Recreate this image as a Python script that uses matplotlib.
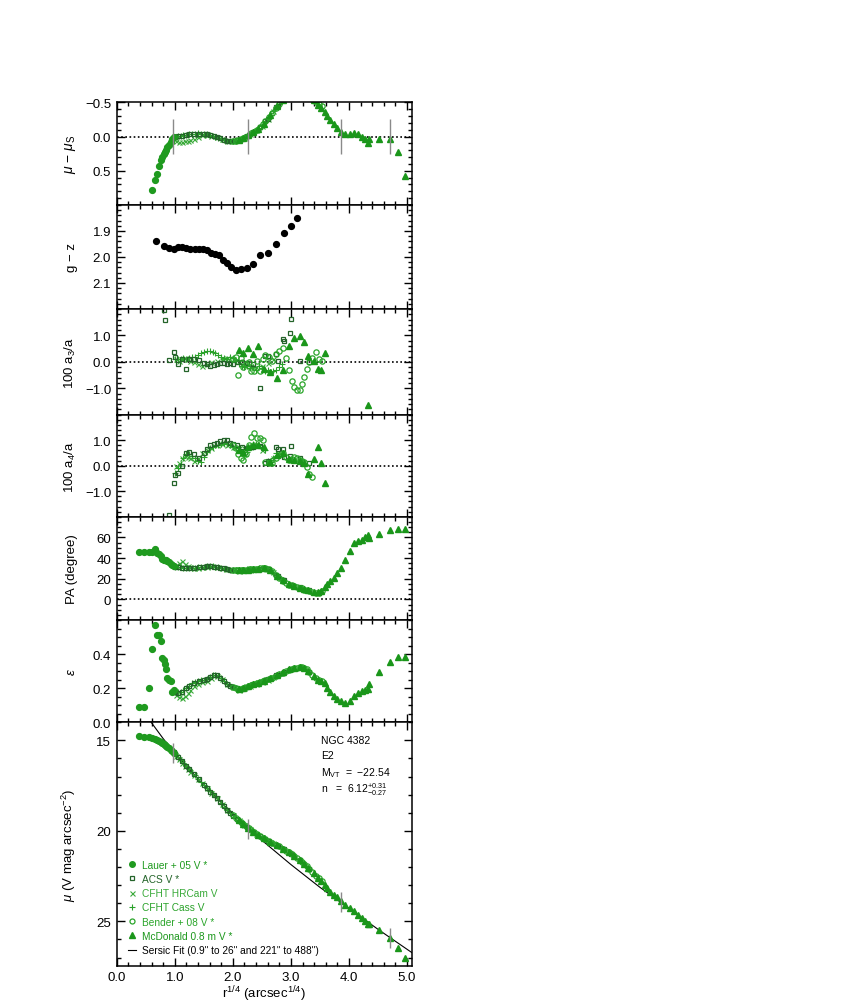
import numpy as np
import matplotlib
matplotlib.use('Agg')
import matplotlib.pyplot as plt
from matplotlib.ticker import MultipleLocator, FuncFormatter, FixedLocator
from matplotlib.lines import Line2D

nan = np.nan

# ---------------- data ----------------
# Lauer+05 (filled circles)
lauer_x = [0.39, 0.47, 0.55, 0.61, 0.66, 0.69, 0.73, 0.76, 0.785, 0.81, 0.83, 0.85, 0.87, 0.90, 0.93, 0.96, 0.99]
lauer_dmu = [1.75, 1.5, 1.15, 0.78, 0.63, 0.54, 0.43, 0.35, 0.30, 0.26, 0.22, 0.19, 0.16, 0.12, 0.08, 0.04, 0.01]
lauer_mu = [14.75, 14.79, 14.83, 14.86, 14.93, 14.97, 15.02, 15.07, 15.13, 15.20, 15.25, 15.30, 15.35, 15.43, 15.51, 15.59, 15.67]
lauer_pa = [45.5, 45.5, 45.5, 45.5, 48.5, 44.5, 43.5, 42, 39.5, 38.5, 38, 37.7, 37, 36, 34.5, 33, 32]
lauer_eps = [0.088, 0.088, 0.204, 0.427, 0.572, 0.512, 0.512, 0.478, 0.378, 0.366, 0.343, 0.31, 0.262, 0.25, 0.245, 0.18, 0.19]

# ACS (open squares)
acs_x = [0.81, 0.83, 0.90, 0.98, 1.01, 1.06, 1.12, 1.20, 1.24, 1.33, 1.41, 1.50, 1.55, 1.61, 1.67, 1.72, 1.78, 1.84,
         1.90, 1.95, 2.01, 2.07, 2.15, 2.25, 2.35, 2.47, 2.56, 2.60, 2.75, 2.77, 2.87, 2.88, 2.99, 3.01, 3.15, 3.32]
acs_dmu = [0.26, 0.22, 0.12, 0.01, 0.00, -0.01, -0.015, -0.025, -0.03, -0.035, -0.04, -0.035, -0.03, -0.02, -0.005,
           0.005, 0.025, 0.045, 0.065, 0.07, 0.07, 0.05, 0.03, -0.01, -0.06, -0.14, -0.22, -0.26, -0.43, -0.45,
           -0.54, -0.55, -0.62, -0.63, -0.64, -0.57]
acs_mu = [15.20, 15.25, 15.43, 15.63, 15.74, 15.92, 16.14, 16.42, 16.56, 16.87, 17.14, 17.45, 17.62, 17.83, 18.04,
          18.21, 18.42, 18.63, 18.83, 18.99, 19.17, 19.33, 19.55, 19.80, 20.04, 20.30, 20.47, 20.54, 20.78, 20.81,
          20.99, 21.01, 21.23, 21.28, 21.63, 22.13]
acs_pa = [nan, nan, nan, 32.5, 31.5, 31, 30.5, 30, 30, 30.5, 31, 31.5, 32, 32, 31.5, 31, 30.5, 30, 29, 28.5, 28, 28,
          28.2, 28.5, 29, 29.5, 30, 29.5, 23.5, 23, 19, 18.5, 14, 13.5, 11.5, 9]
acs_eps = [nan, nan, nan, 0.18, 0.18, 0.17, 0.18, 0.20, 0.21, 0.23, 0.245, 0.25, 0.255, 0.265, 0.275, 0.28, 0.262,
           0.245, 0.225, 0.215, 0.205, 0.20, 0.197, 0.208, 0.222, 0.237, 0.25, 0.255, 0.275, 0.28, 0.292, 0.295,
           0.31, 0.312, 0.322, 0.295]
acs_a3 = [1.96, 1.60, 0.06, 0.38, 0.19, -0.07, 0.12, -0.28, 0.12, 0.12, 0.06, -0.06, -0.10, -0.14, -0.12, -0.08,
          -0.05, -0.05, -0.08, -0.06, -0.09, -0.02, 0.00, -0.05, -0.10, -0.98, 0.22, 0.22, 0.29, 0.04, 0.87, 0.80,
          1.09, 1.64, 0.05, 0.00]
acs_a4 = [nan, nan, -1.95, -0.69, -0.37, -0.27, 0.0, 0.48, 0.55, 0.44, 0.32, 0.49, 0.65, 0.83, 0.86, 0.90, 0.95,
          0.99, 0.99, 0.90, 0.86, 0.80, 0.75, 0.70, 0.75, 0.77, 0.12, 0.20, 0.74, 0.64, 0.64, 0.35, 0.39, 0.78,
          0.30, 0.10]

# CFHT HRCam (x)
hrc_x = [1.02, 1.07, 1.12, 1.17, 1.22, 1.27, 1.33, 1.40, 1.47, 1.55, 1.63, 1.72, 1.81, 1.90, 2.00, 2.10, 2.20,
         2.30, 2.40, 2.50, 2.60, 2.70]
hrc_dmu = [0.06, 0.08, 0.08, 0.07, 0.06, 0.05, 0.03, 0.00, -0.02, -0.02, -0.01, 0.01, 0.04, 0.07, 0.07, 0.05,
           0.02, -0.03, -0.09, -0.16, -0.26, -0.38]
hrc_mu = [15.84, 16.05, 16.23, 16.41, 16.58, 16.74, 16.93, 17.15, 17.36, 17.63, 17.90, 18.21, 18.53, 18.83, 19.14,
          19.42, 19.68, 19.92, 20.15, 20.36, 20.54, 20.69]
hrc_pa = [33, 35, 37, 34, 32, 31, 30.5, 30.5, 31, 31.5, 32, 31.5, 30, 29, 28, 27.5, 28, 28.5, 29, 29.5, 29, 26]
hrc_eps = [0.16, 0.15, 0.145, 0.155, 0.17, 0.19, 0.21, 0.225, 0.235, 0.245, 0.26, 0.27, 0.255, 0.225, 0.205, 0.19,
           0.20, 0.215, 0.225, 0.235, 0.25, 0.265]
hrc_a3 = [0.10, 0.05, 0.10, 0.15, 0.10, 0.05, 0.00, -0.10, -0.15, -0.10, 0.00, 0.05, 0.10, 0.15, 0.10, 0.05, 0.00,
          -0.15, -0.20, -0.15, -0.05, 0.10]
hrc_a4 = [0.00, 0.10, 0.30, 0.40, 0.35, 0.30, 0.20, 0.30, 0.50, 0.60, 0.70, 0.80, 0.85, 0.80, 0.75, 0.70, 0.70,
          0.75, 0.85, 0.60, 0.20, 0.30]

# CFHT Cass (+)
cass_x = [1.00, 1.05, 1.10, 1.15, 1.20, 1.25, 1.30, 1.35, 1.40, 1.45, 1.50, 1.55, 1.60, 1.65, 1.70, 1.75, 1.80,
          1.85, 1.90, 1.95, 2.00, 2.05, 2.10, 2.15, 2.20, 2.25, 2.30, 2.35, 2.40, 2.45, 2.50, 2.55, 2.60, 2.65,
          2.70, 2.75, 2.80, 2.85]
cass_dmu = [0.0, -0.005, -0.015, -0.02, -0.025, -0.03, -0.035, -0.04, -0.045, -0.04, -0.035, -0.03, -0.02, -0.01,
            0.0, 0.015, 0.03, 0.05, 0.065, 0.07, 0.07, 0.055, 0.045, 0.03, 0.01, -0.01, -0.04, -0.06, -0.09, -0.12,
            -0.16, -0.21, -0.26, -0.32, -0.38, -0.43, -0.48, -0.52]
cass_mu = [15.70, 15.89, 16.07, 16.24, 16.42, 16.59, 16.77, 16.93, 17.11, 17.28, 17.45, 17.62, 17.79, 17.97, 18.14,
           18.32, 18.48, 18.66, 18.83, 18.99, 19.14, 19.28, 19.42, 19.55, 19.67, 19.80, 19.91, 20.04, 20.15, 20.26,
           20.36, 20.45, 20.54, 20.62, 20.69, 20.78, 20.86, 20.96]
cass_pa = [31.5, 31, 31, 30.5, 30.5, 30, 30, 30.5, 31, 31.5, 31.5, 32, 32, 32, 31.5, 31, 30, 29.5, 29, 28.5, 28, 28,
           28, 28.5, 28.5, 29, 29, 29.5, 29.5, 30, 30, 30, 29.5, 28, 25.5, 23.5, 21.5, 19]
cass_eps = [0.18, 0.175, 0.178, 0.19, 0.20, 0.215, 0.228, 0.235, 0.243, 0.248, 0.25, 0.255, 0.265, 0.275, 0.28,
            0.272, 0.258, 0.24, 0.225, 0.212, 0.205, 0.20, 0.196, 0.198, 0.205, 0.21, 0.218, 0.223, 0.23, 0.235,
            0.24, 0.245, 0.252, 0.258, 0.266, 0.275, 0.285, 0.292]
cass_a3 = [0.10, 0.12, 0.10, 0.15, 0.12, 0.15, 0.18, 0.20, 0.25, 0.35, 0.38, 0.40, 0.42, 0.38, 0.32, 0.25, 0.20,
           0.15, 0.12, 0.18, 0.15, 0.05, -0.10, -0.15, -0.20, -0.15, -0.25, -0.20, -0.30, -0.15, -0.25, -0.35,
           -0.30, -0.40, -0.35, -0.30, -0.20, -0.10]
cass_a4 = [-0.30, -0.10, 0.05, 0.30, 0.45, 0.45, 0.40, 0.30, 0.20, 0.15, 0.35, 0.55, 0.70, 0.75, 0.80, 0.82, 0.85,
           0.88, 0.85, 0.80, 0.75, 0.70, 0.60, 0.50, 0.40, 0.55, 0.75, 0.85, 0.85, 0.80, 0.75, 0.60, 0.20, 0.15,
           0.30, 0.50, 0.45, 0.40]

# Bender+08 (open circles)
bend_x = [2.00, 2.05, 2.09, 2.14, 2.18, 2.22, 2.27, 2.31, 2.36, 2.41, 2.47, 2.52, 2.56, 2.62, 2.68, 2.74, 2.80,
          2.86, 2.92, 2.97, 3.02, 3.06, 3.10, 3.15, 3.19, 3.23, 3.27, 3.31, 3.36, 3.43, 3.48, 3.53]
bend_dmu = [0.07, 0.06, 0.05, 0.035, 0.02, 0.0, -0.025, -0.045, -0.07, -0.10, -0.14, -0.18, -0.22, -0.28, -0.35,
            -0.42, -0.48, -0.53, -0.58, -0.61, -0.63, -0.65, -0.66, -0.66, -0.65, -0.63, -0.61, -0.58, -0.55,
            -0.50, -0.48, -0.44]
bend_mu = [19.14, 19.28, 19.39, 19.53, 19.63, 19.72, 19.85, 19.94, 20.06, 20.17, 20.30, 20.40, 20.47, 20.57, 20.67,
           20.76, 20.86, 20.98, 21.09, 21.19, 21.30, 21.38, 21.48, 21.61, 21.72, 21.84, 21.96, 22.10, 22.25, 22.48,
           22.62, 22.79]
bend_pa = [28, 28, 28, 28, 28.5, 28.5, 29, 29, 29.5, 29.5, 30, 30, 30, 29.5, 27, 24, 21, 18, 16, 14, 13.5, 12.5,
           11.5, 11, 10.5, 9.5, 9, 8, 7.5, 6.5, 6.5, 8]
bend_eps = [0.205, 0.20, 0.197, 0.196, 0.20, 0.205, 0.212, 0.22, 0.225, 0.23, 0.235, 0.24, 0.248, 0.252, 0.262,
            0.272, 0.284, 0.292, 0.30, 0.306, 0.313, 0.317, 0.32, 0.322, 0.322, 0.318, 0.31, 0.295, 0.28, 0.262,
            0.25, 0.245]
bend_a3 = [0.10, 0.20, -0.49, 0.15, -0.20, -0.10, 0.00, -0.35, -0.33, 0.05, -0.36, 0.10, 0.25, 0.20, 0.05, 0.30,
           0.41, 0.51, 0.13, -0.30, -0.73, -0.96, -1.05, -1.06, -0.83, -0.58, -0.28, 0.00, 0.15, 0.38, 0.10, 0.05]
bend_a4 = [0.80, 0.70, 0.45, 0.30, 0.22, 0.45, 0.80, 1.11, 1.27, 1.10, 1.07, 1.00, 0.15, 0.12, 0.10, 0.31, 0.42,
           0.50, 0.35, 0.22, 0.25, 0.35, 0.31, 0.22, 0.20, 0.16, -0.04, -0.33, -0.43, nan, nan, nan]

# McDonald 0.8 m (filled triangles)
mcd_x = [2.10, 2.18, 2.26, 2.35, 2.44, 2.53, 2.64, 2.76, 2.86, 2.97, 3.06, 3.15, 3.22, 3.29, 3.39, 3.46, 3.52, 3.58,
         3.63, 3.68, 3.74, 3.80, 3.86, 3.93, 4.01, 4.09, 4.16, 4.23, 4.28, 4.32, 4.35, 4.52, 4.71, 4.85, 4.97]
mcd_dmu = [0.045, 0.02, -0.02, -0.06, -0.11, -0.19, -0.31, -0.44, -0.53, -0.61, -0.65, -0.66, -0.64, -0.60, -0.53,
           -0.457, -0.41, -0.36, -0.30, -0.24, -0.19, -0.13, -0.07, -0.03, -0.03, -0.05, -0.03, 0.00, 0.03, 0.088,
           0.03, 0.03, 0.03, 0.233, 0.58]
mcd_mu = [19.42, 19.63, 19.82, 20.04, 20.24, 20.42, 20.60, 20.80, 20.98, 21.19, 21.38, 21.61, 21.81, 22.03, 22.35,
          22.59, 22.79, 22.99, 23.18, 23.36, 23.56, 23.68, 23.89, 24.09, 24.28, 24.45, 24.64, 24.83, 24.98, 25.13,
          25.14, 25.49, 25.92, 26.45, 27.05]
mcd_pa = [28, 28.5, 28.5, 29, 29.5, 30, 28.5, 22.5, 18.5, 14.5, 12.5, 11, 10, 9, 7.5, 7, 8.5, 12.4, 15, 17.5, 21,
          25.6, 30.8, 38, 47.2, 55, 56, 57.7, 60, 62, 59, 63.6, 66.9, 68.2, 68.2]
mcd_eps = [0.196, 0.20, 0.21, 0.222, 0.232, 0.245, 0.26, 0.28, 0.295, 0.31, 0.318, 0.322, 0.32, 0.30, 0.27, 0.25,
           0.245, 0.23, 0.20, 0.18, 0.157, 0.137, 0.124, 0.112, 0.124, 0.157, 0.17, 0.186, 0.19, 0.196, 0.222,
           0.294, 0.353, 0.382, 0.382]
mcd_a3 = [0.45, 0.35, 0.54, 0.28, 0.61, -0.26, -0.38, -0.60, -0.30, 0.61, 0.92, 0.96, 0.77, 0.22, 0.04, -0.28,
          -0.31, 0.35, nan, nan, nan, nan, nan, nan, nan, nan, nan, nan, nan, -1.64, nan, nan, nan, nan, nan]
mcd_a4 = [0.60, 0.55, 0.75, 0.80, 0.81, 0.72, 0.16, 0.42, 0.50, 0.25, 0.22, 0.20, 0.10, -0.34, 0.25, 0.74, 0.09,
          -0.69, nan, nan, nan, nan, nan, nan, nan, nan, nan, nan, nan, nan, nan, nan, nan, nan, nan]

# g - z colour (black dots)
gz_x = [0.67, 0.81, 0.90, 0.995, 1.06, 1.13, 1.20, 1.27, 1.34, 1.41, 1.48, 1.56, 1.63, 1.70, 1.76, 1.83, 1.90,
        1.97, 2.05, 2.14, 2.24, 2.35, 2.47, 2.60, 2.75, 2.88, 3.00, 3.10]
gz = [1.937, 1.956, 1.964, 1.968, 1.960, 1.960, 1.964, 1.968, 1.968, 1.968, 1.971, 1.974, 1.986, 1.988, 1.994,
      2.010, 2.023, 2.038, 2.050, 2.048, 2.043, 2.025, 1.992, 1.985, 1.950, 1.909, 1.881, 1.850]

# Sersic fit line and fit-range markers
sersic_x = [0.58, 0.8, 1.0, 1.5, 2.0, 2.5, 3.0, 3.5, 4.0, 4.5, 5.08]
sersic_mu = [13.94, 14.90, 15.70, 17.48, 19.07, 20.52, 21.86, 23.12, 24.28, 25.44, 26.72]
fit_x = [0.974, 2.258, 3.856, 4.70]
fit_mu = [15.72, 19.90, 23.92, 25.92]

legend_labels = ['Lauer + 05 V *', 'ACS V *', 'CFHT HRCam V', 'CFHT Cass V', 'Bender + 08 V *',
                 'McDonald 0.8 m V *', 'Sersic Fit (0.9" to 26" and 221" to 488")']

# ---------------- style ----------------
plt.rcParams['font.family'] = ['Liberation Sans', 'DejaVu Sans']
plt.rcParams['mathtext.fontset'] = 'custom'
plt.rcParams['mathtext.rm'] = 'Liberation Sans'
plt.rcParams['mathtext.it'] = 'Liberation Sans:italic'
plt.rcParams['mathtext.bf'] = 'Liberation Sans:bold'
FS = 9.5

c_lauer = '#1f9a1f'
c_acs = '#24642a'
c_hrc = '#3aaa3a'
c_cass = '#2aa22a'
c_bend = '#2aa52a'
c_mcd = '#1a961a'
c_fit = '#8a8a8a'

W, H = 850, 1004
fig = plt.figure(figsize=(W / 100, H / 100), dpi=100)
left, right = 116.7, 411.7
edges = [103.3, 206.0, 310.0, 415.7, 517.7, 621.0, 723.3, 966.7]
axes = []
for i in range(7):
    t, b = edges[i], edges[i + 1]
    axes.append(fig.add_axes([left / W, 1 - b / H, (right - left) / W, (b - t) / H]))


def make_fmt(fmt):
    return FuncFormatter(lambda v, p: (fmt % v).replace('-', '\u2212'))


def style(ax, yticks, yminor, fmt, ylim, bottom=False):
    ax.set_xlim(0, 5.08)
    ax.set_ylim(*ylim)
    ax.xaxis.set_major_locator(MultipleLocator(1.0))
    ax.xaxis.set_minor_locator(MultipleLocator(0.2))
    ax.yaxis.set_major_locator(FixedLocator(yticks))
    ax.yaxis.set_minor_locator(MultipleLocator(yminor))
    ax.tick_params(which='both', direction='in', top=True, right=True, width=1.0,
                   labelsize=FS, labelbottom=bottom, pad=4)
    ax.tick_params(which='major', length=5.5)
    ax.tick_params(which='minor', length=2.8)
    for s in ax.spines.values():
        s.set_linewidth(1.1)
    ax.yaxis.set_major_formatter(make_fmt(fmt))
    ax.xaxis.set_major_formatter(make_fmt('%.1f'))
    ax.yaxis.set_label_coords(-0.13, 0.5)


def zero(ax):
    ax.axhline(0, color='k', ls=(0, (1.0, 1.5)), lw=1.2, zorder=1)


def pts(ax, x, y, kind):
    if kind == 'lauer':
        ax.plot(x, y, ls='none', marker='o', ms=4.2, color=c_lauer, mec=c_lauer, zorder=2)
    elif kind == 'acs':
        ax.plot(x, y, ls='none', marker='s', ms=3.2, mfc='none', mec=c_acs, mew=0.9, zorder=2)
    elif kind == 'hrc':
        ax.plot(x, y, ls='none', marker='x', ms=3.6, color=c_hrc, mew=0.8, zorder=2)
    elif kind == 'cass':
        ax.plot(x, y, ls='none', marker='+', ms=4.4, color=c_cass, mew=0.8, zorder=2)
    elif kind == 'bend':
        ax.plot(x, y, ls='none', marker='o', ms=3.8, mfc='none', mec=c_bend, mew=0.9, zorder=2)
    elif kind == 'mcd':
        ax.plot(x, y, ls='none', marker='^', ms=4.3, color=c_mcd, mec=c_mcd, zorder=2)


# Panel 1: mu - mu_s
ax = axes[0]
style(ax, [-0.5, 0.0, 0.5], 0.1, '%.1f', (1.0, -0.5))
zero(ax)
pts(ax, hrc_x, hrc_dmu, 'hrc')
pts(ax, cass_x, cass_dmu, 'cass')
pts(ax, acs_x, acs_dmu, 'acs')
pts(ax, bend_x, bend_dmu, 'bend')
pts(ax, mcd_x, mcd_dmu, 'mcd')
pts(ax, lauer_x, lauer_dmu, 'lauer')
ax.vlines(fit_x, -0.25, 0.25, color=c_fit, lw=1.0, zorder=3)
ax.set_ylabel(r'$\mu$ − $\mu_{\rm S}$', fontsize=FS + 0.5)

# Panel 2: g - z
ax = axes[1]
style(ax, [1.9, 2.0, 2.1], 0.02, '%.1f', (2.2, 1.8))
ax.plot(gz_x, gz, ls='none', marker='o', ms=4.2, color='k')
ax.set_ylabel('g − z', fontsize=FS)

# Panel 3: a3
ax = axes[2]
style(ax, [-1.0, 0.0, 1.0], 0.2, '%.1f', (-2.0, 2.0))
zero(ax)
pts(ax, hrc_x, hrc_a3, 'hrc')
pts(ax, cass_x, cass_a3, 'cass')
pts(ax, acs_x, acs_a3, 'acs')
pts(ax, bend_x, bend_a3, 'bend')
pts(ax, mcd_x, mcd_a3, 'mcd')
ax.set_ylabel(r'100 a$_3$/a', fontsize=FS)

# Panel 4: a4
ax = axes[3]
style(ax, [-1.0, 0.0, 1.0], 0.2, '%.1f', (-2.0, 2.0))
zero(ax)
pts(ax, hrc_x, hrc_a4, 'hrc')
pts(ax, cass_x, cass_a4, 'cass')
pts(ax, acs_x, acs_a4, 'acs')
pts(ax, bend_x, bend_a4, 'bend')
pts(ax, mcd_x, mcd_a4, 'mcd')
ax.set_ylabel(r'100 a$_4$/a', fontsize=FS)

# Panel 5: PA
ax = axes[4]
style(ax, [0, 20, 40, 60], 5, '%d', (-20, 80))
zero(ax)
pts(ax, hrc_x, hrc_pa, 'hrc')
pts(ax, cass_x, cass_pa, 'cass')
pts(ax, acs_x, acs_pa, 'acs')
pts(ax, bend_x, bend_pa, 'bend')
pts(ax, mcd_x, mcd_pa, 'mcd')
pts(ax, lauer_x, lauer_pa, 'lauer')
ax.set_ylabel('PA (degree)', fontsize=FS)

# Panel 6: ellipticity
ax = axes[5]
style(ax, [0.0, 0.2, 0.4], 0.05, '%.1f', (0.0, 0.6))
pts(ax, hrc_x, hrc_eps, 'hrc')
pts(ax, cass_x, cass_eps, 'cass')
pts(ax, acs_x, acs_eps, 'acs')
pts(ax, bend_x, bend_eps, 'bend')
pts(ax, mcd_x, mcd_eps, 'mcd')
pts(ax, lauer_x, lauer_eps, 'lauer')
ax.set_ylabel(r'$\epsilon$', fontsize=FS)

# Panel 7: surface brightness
ax = axes[6]
style(ax, [15, 20, 25], 1, '%d', (27.45, 14.0), bottom=True)
ax.plot(sersic_x, sersic_mu, color='k', lw=0.8, zorder=1)
pts(ax, hrc_x, hrc_mu, 'hrc')
pts(ax, cass_x, cass_mu, 'cass')
pts(ax, acs_x, acs_mu, 'acs')
pts(ax, bend_x, bend_mu, 'bend')
pts(ax, mcd_x, mcd_mu, 'mcd')
pts(ax, lauer_x, lauer_mu, 'lauer')
ax.vlines(fit_x, np.array(fit_mu) - 0.55, np.array(fit_mu) + 0.55, color=c_fit, lw=1.0, zorder=3)
ax.set_ylabel(r'$\mu$ (V mag arcsec$^{-2}$)', fontsize=FS)
ax.set_xlabel(r'r$^{1/4}$ (arcsec$^{1/4}$)', fontsize=FS, va='top')
ax.xaxis.set_label_coords(0.5, -0.073)

tfs = 7.5
ax.text(0.693, 0.927, 'NGC 4382', transform=ax.transAxes, fontsize=tfs, va='center')
ax.text(0.693, 0.864, 'E2', transform=ax.transAxes, fontsize=tfs, va='center')
ax.text(0.693, 0.796, r'M$_{\rm VT}$  =  −22.54', transform=ax.transAxes, fontsize=tfs, va='center')
ax.text(0.693, 0.728, r'n   =  6.12$^{+0.31}_{-0.27}$', transform=ax.transAxes, fontsize=tfs, va='center')

handles = [
    Line2D([], [], ls='none', marker='o', ms=4.0, color=c_lauer),
    Line2D([], [], ls='none', marker='s', ms=3.2, mfc='none', mec=c_acs, mew=0.9),
    Line2D([], [], ls='none', marker='x', ms=3.6, color=c_hrc, mew=0.8),
    Line2D([], [], ls='none', marker='+', ms=4.4, color=c_cass, mew=0.8),
    Line2D([], [], ls='none', marker='o', ms=3.6, mfc='none', mec=c_bend, mew=0.9),
    Line2D([], [], ls='none', marker='^', ms=4.3, color=c_mcd),
    Line2D([], [], color='k', lw=0.8),
]
leg = ax.legend(handles, legend_labels, loc='lower left', bbox_to_anchor=(0.033, 0.035),
                frameon=False, fontsize=7.3, handlelength=0.7, handletextpad=0.6,
                labelspacing=0.42, borderpad=0.2, borderaxespad=0.0,
                labelcolor=[c_lauer, c_acs, c_hrc, c_cass, c_bend, c_mcd, 'k'])

fig.savefig('out.png', dpi=100)
